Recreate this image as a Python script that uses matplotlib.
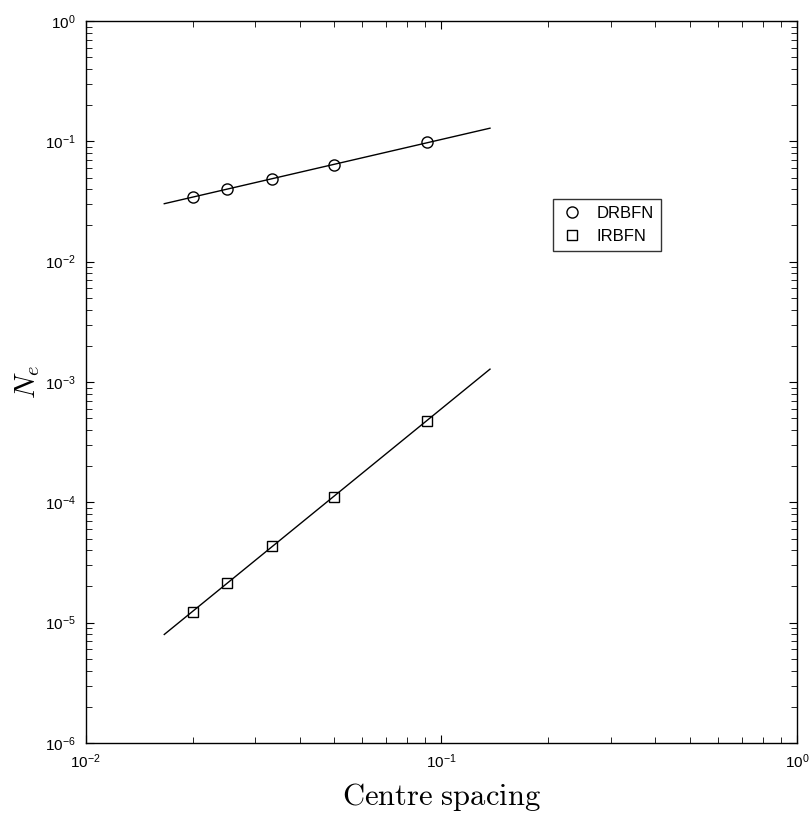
import numpy as np
import matplotlib
matplotlib.use('Agg')
import matplotlib.pyplot as plt

# centre spacing h and the error norm N_e
spacing = [1/50, 1/40, 1/30, 1/20, 1/11]
ne_drbfn = [0.0347, 0.0402, 0.0484, 0.0633, 0.0983]
ne_irbfn = [1.22e-5, 2.14e-5, 4.36e-5, 1.107e-4, 4.76e-4]
fit_range = [0.01665, 0.1371]

plt.rcParams['font.family'] = ['Liberation Sans', 'DejaVu Sans']
plt.rcParams['mathtext.fontset'] = 'custom'
plt.rcParams['mathtext.rm'] = 'Liberation Sans'
plt.rcParams['mathtext.it'] = 'Liberation Sans:italic'

fig = plt.figure(figsize=(8.11, 8.18), dpi=100)
ax = fig.add_axes([85.5/811, 1 - 743/818, 711.5/811, 722/818])

xfit = np.array(fit_range)
for ne, mk, lab in [(ne_drbfn, 'o', 'DRBFN'), (ne_irbfn, 's', 'IRBFN')]:
    # least squares line in log-log, as in the original plot
    p = np.polyfit(np.log10(spacing), np.log10(ne), 1)
    ax.plot(xfit, 10**np.polyval(p, np.log10(xfit)), 'k-', lw=1.0)
    ax.plot(spacing, ne, linestyle='none', marker=mk, mfc='none', mec='k',
            mew=1.0, ms=8 if mk == 'o' else 6.5, label=lab)

ax.set_xscale('log')
ax.set_yscale('log')
ax.set_xlim(1e-2, 1e0)
ax.set_ylim(1e-6, 1e0)

ax.tick_params(which='both', direction='in', top=True, right=True, labelsize=11)
ax.tick_params(which='major', length=6, width=0.8)
ax.tick_params(which='minor', length=4, width=0.6)
ax.tick_params(axis='x', which='major', pad=7)
ax.tick_params(axis='y', which='major', pad=7)
for s in ax.spines.values():
    s.set_linewidth(1.0)

ax.set_xlabel(r'$\mathrm{Centre\ spacing}$', fontsize=22, math_fontfamily='cm')
ax.xaxis.set_label_coords(0.5, -0.053)
ax.set_ylabel(r'$N_e$', fontsize=21, math_fontfamily='cm', labelpad=2)

leg = ax.legend(loc='upper left', bbox_to_anchor=(0.6458, 0.7646), fontsize=12,
                frameon=True, fancybox=False, edgecolor='k', handlelength=1.4,
                borderpad=0.4, labelspacing=0.5, handletextpad=0.8)
leg.get_frame().set_linewidth(1.0)

fig.savefig('out.png', dpi=100)
